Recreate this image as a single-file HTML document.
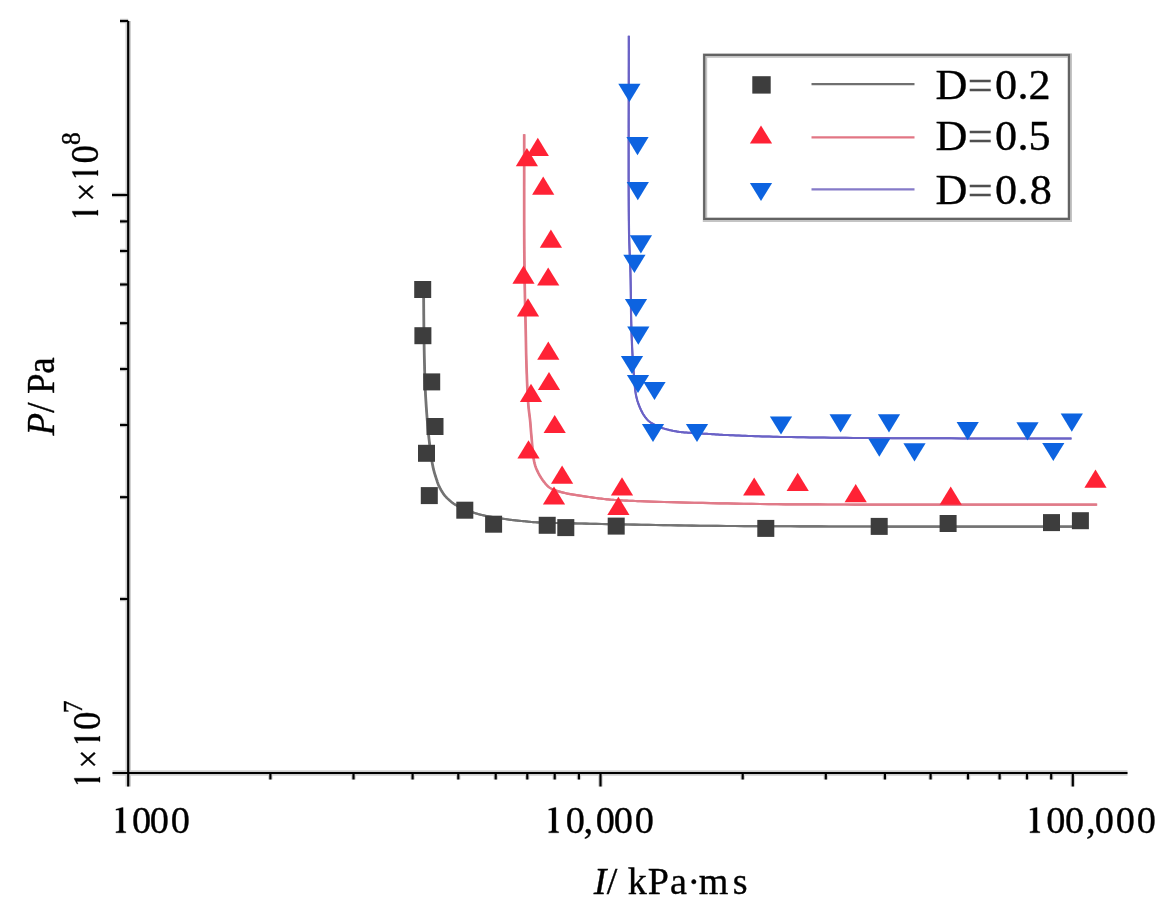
<!DOCTYPE html>
<html><head><meta charset="utf-8"><style>
html,body{margin:0;padding:0;background:#fff;}
body{width:1172px;height:908px;position:relative;overflow:hidden;}
svg{position:absolute;left:0;top:0;}
text{font-family:"Liberation Serif",serif;stroke:#000;stroke-width:0.35px;}
</style></head><body>
<svg width="1172" height="908" viewBox="0 0 1172 908">
<defs><filter id="fa" x="-5%" y="-5%" width="110%" height="110%"><feGaussianBlur stdDeviation="0.4"/></filter><filter id="fd" x="-5%" y="-5%" width="110%" height="110%"><feGaussianBlur stdDeviation="0.62"/></filter></defs>
<g filter="url(#fa)"><line x1="128.2" y1="21.0" x2="128.2" y2="786.5" stroke="#cfcfcf" stroke-width="5.5"/>
<line x1="112.5" y1="773.0" x2="1127.5" y2="773.0" stroke="#cfcfcf" stroke-width="5.5"/>
<line x1="112.0" y1="195.0" x2="128.2" y2="195.0" stroke="#cfcfcf" stroke-width="4.5"/>
<line x1="120.0" y1="599.0" x2="128.2" y2="599.0" stroke="#cfcfcf" stroke-width="4.5"/>
<line x1="120.0" y1="497.2" x2="128.2" y2="497.2" stroke="#cfcfcf" stroke-width="4.5"/>
<line x1="120.0" y1="425.0" x2="128.2" y2="425.0" stroke="#cfcfcf" stroke-width="4.5"/>
<line x1="120.0" y1="369.0" x2="128.2" y2="369.0" stroke="#cfcfcf" stroke-width="4.5"/>
<line x1="120.0" y1="323.2" x2="128.2" y2="323.2" stroke="#cfcfcf" stroke-width="4.5"/>
<line x1="120.0" y1="284.5" x2="128.2" y2="284.5" stroke="#cfcfcf" stroke-width="4.5"/>
<line x1="120.0" y1="251.0" x2="128.2" y2="251.0" stroke="#cfcfcf" stroke-width="4.5"/>
<line x1="120.0" y1="221.4" x2="128.2" y2="221.4" stroke="#cfcfcf" stroke-width="4.5"/>
<line x1="120.0" y1="21.0" x2="128.2" y2="21.0" stroke="#cfcfcf" stroke-width="4.5"/>
<line x1="600.5" y1="773.0" x2="600.5" y2="786.5" stroke="#cfcfcf" stroke-width="4.5"/>
<line x1="1072.8" y1="773.0" x2="1072.8" y2="786.5" stroke="#cfcfcf" stroke-width="4.5"/>
<line x1="270.4" y1="773.0" x2="270.4" y2="779.5" stroke="#cfcfcf" stroke-width="4.5"/>
<line x1="353.5" y1="773.0" x2="353.5" y2="779.5" stroke="#cfcfcf" stroke-width="4.5"/>
<line x1="412.6" y1="773.0" x2="412.6" y2="779.5" stroke="#cfcfcf" stroke-width="4.5"/>
<line x1="458.3" y1="773.0" x2="458.3" y2="779.5" stroke="#cfcfcf" stroke-width="4.5"/>
<line x1="495.7" y1="773.0" x2="495.7" y2="779.5" stroke="#cfcfcf" stroke-width="4.5"/>
<line x1="527.3" y1="773.0" x2="527.3" y2="779.5" stroke="#cfcfcf" stroke-width="4.5"/>
<line x1="554.7" y1="773.0" x2="554.7" y2="779.5" stroke="#cfcfcf" stroke-width="4.5"/>
<line x1="578.9" y1="773.0" x2="578.9" y2="779.5" stroke="#cfcfcf" stroke-width="4.5"/>
<line x1="742.7" y1="773.0" x2="742.7" y2="779.5" stroke="#cfcfcf" stroke-width="4.5"/>
<line x1="825.8" y1="773.0" x2="825.8" y2="779.5" stroke="#cfcfcf" stroke-width="4.5"/>
<line x1="884.9" y1="773.0" x2="884.9" y2="779.5" stroke="#cfcfcf" stroke-width="4.5"/>
<line x1="930.6" y1="773.0" x2="930.6" y2="779.5" stroke="#cfcfcf" stroke-width="4.5"/>
<line x1="968.0" y1="773.0" x2="968.0" y2="779.5" stroke="#cfcfcf" stroke-width="4.5"/>
<line x1="999.6" y1="773.0" x2="999.6" y2="779.5" stroke="#cfcfcf" stroke-width="4.5"/>
<line x1="1027.0" y1="773.0" x2="1027.0" y2="779.5" stroke="#cfcfcf" stroke-width="4.5"/>
<line x1="1051.2" y1="773.0" x2="1051.2" y2="779.5" stroke="#cfcfcf" stroke-width="4.5"/>
<line x1="128.2" y1="21.0" x2="128.2" y2="786.5" stroke="#000" stroke-width="2.2"/>
<line x1="112.5" y1="773.0" x2="1127.5" y2="773.0" stroke="#000" stroke-width="2.2"/>
<line x1="112.0" y1="195.0" x2="128.2" y2="195.0" stroke="#000" stroke-width="2.2"/>
<line x1="120.0" y1="599.0" x2="128.2" y2="599.0" stroke="#000" stroke-width="2.2"/>
<line x1="120.0" y1="497.2" x2="128.2" y2="497.2" stroke="#000" stroke-width="2.2"/>
<line x1="120.0" y1="425.0" x2="128.2" y2="425.0" stroke="#000" stroke-width="2.2"/>
<line x1="120.0" y1="369.0" x2="128.2" y2="369.0" stroke="#000" stroke-width="2.2"/>
<line x1="120.0" y1="323.2" x2="128.2" y2="323.2" stroke="#000" stroke-width="2.2"/>
<line x1="120.0" y1="284.5" x2="128.2" y2="284.5" stroke="#000" stroke-width="2.2"/>
<line x1="120.0" y1="251.0" x2="128.2" y2="251.0" stroke="#000" stroke-width="2.2"/>
<line x1="120.0" y1="221.4" x2="128.2" y2="221.4" stroke="#000" stroke-width="2.2"/>
<line x1="120.0" y1="21.0" x2="128.2" y2="21.0" stroke="#000" stroke-width="2.2"/>
<line x1="600.5" y1="773.0" x2="600.5" y2="786.5" stroke="#000" stroke-width="2.2"/>
<line x1="1072.8" y1="773.0" x2="1072.8" y2="786.5" stroke="#000" stroke-width="2.2"/>
<line x1="270.4" y1="773.0" x2="270.4" y2="779.5" stroke="#000" stroke-width="2.2"/>
<line x1="353.5" y1="773.0" x2="353.5" y2="779.5" stroke="#000" stroke-width="2.2"/>
<line x1="412.6" y1="773.0" x2="412.6" y2="779.5" stroke="#000" stroke-width="2.2"/>
<line x1="458.3" y1="773.0" x2="458.3" y2="779.5" stroke="#000" stroke-width="2.2"/>
<line x1="495.7" y1="773.0" x2="495.7" y2="779.5" stroke="#000" stroke-width="2.2"/>
<line x1="527.3" y1="773.0" x2="527.3" y2="779.5" stroke="#000" stroke-width="2.2"/>
<line x1="554.7" y1="773.0" x2="554.7" y2="779.5" stroke="#000" stroke-width="2.2"/>
<line x1="578.9" y1="773.0" x2="578.9" y2="779.5" stroke="#000" stroke-width="2.2"/>
<line x1="742.7" y1="773.0" x2="742.7" y2="779.5" stroke="#000" stroke-width="2.2"/>
<line x1="825.8" y1="773.0" x2="825.8" y2="779.5" stroke="#000" stroke-width="2.2"/>
<line x1="884.9" y1="773.0" x2="884.9" y2="779.5" stroke="#000" stroke-width="2.2"/>
<line x1="930.6" y1="773.0" x2="930.6" y2="779.5" stroke="#000" stroke-width="2.2"/>
<line x1="968.0" y1="773.0" x2="968.0" y2="779.5" stroke="#000" stroke-width="2.2"/>
<line x1="999.6" y1="773.0" x2="999.6" y2="779.5" stroke="#000" stroke-width="2.2"/>
<line x1="1027.0" y1="773.0" x2="1027.0" y2="779.5" stroke="#000" stroke-width="2.2"/>
<line x1="1051.2" y1="773.0" x2="1051.2" y2="779.5" stroke="#000" stroke-width="2.2"/>
<path transform="translate(115.90,832.80)" d="M0,0 L10,0 L10,-1.1 L8.2,-1.5 L7.2,-2.2 L7.2,-25.3 L6.4,-25.3 L0,-23.6 L0,-22.6 L2.2,-22.9 L3.3,-22.3 L3.3,-2.2 L2.3,-1.5 L0,-1.1 Z" fill="#000" stroke="#000" stroke-width="0.3"/>
<text transform="matrix(1.0200,0,0,1,131.94,832.80)" font-size="37.6" fill="#000">0</text>
<text transform="matrix(1.0200,0,0,1,149.74,832.80)" font-size="37.6" fill="#000">0</text>
<text transform="matrix(1.0200,0,0,1,170.64,832.80)" font-size="37.6" fill="#000">0</text>
<path transform="translate(548.70,832.80)" d="M0,0 L10,0 L10,-1.1 L8.2,-1.5 L7.2,-2.2 L7.2,-25.3 L6.4,-25.3 L0,-23.6 L0,-22.6 L2.2,-22.9 L3.3,-22.3 L3.3,-2.2 L2.3,-1.5 L0,-1.1 Z" fill="#000" stroke="#000" stroke-width="0.3"/>
<text transform="matrix(1.0200,0,0,1,565.64,832.80)" font-size="37.6" fill="#000">0</text>
<text transform="matrix(1.0200,0,0,1,583.54,832.80)" font-size="37.6" fill="#000">,</text>
<text transform="matrix(1.0200,0,0,1,595.84,832.80)" font-size="37.6" fill="#000">0</text>
<text transform="matrix(1.0200,0,0,1,613.84,832.80)" font-size="37.6" fill="#000">0</text>
<text transform="matrix(1.0200,0,0,1,634.74,832.80)" font-size="37.6" fill="#000">0</text>
<path transform="translate(1029.90,832.80)" d="M0,0 L10,0 L10,-1.1 L8.2,-1.5 L7.2,-2.2 L7.2,-25.3 L6.4,-25.3 L0,-23.6 L0,-22.6 L2.2,-22.9 L3.3,-22.3 L3.3,-2.2 L2.3,-1.5 L0,-1.1 Z" fill="#000" stroke="#000" stroke-width="0.3"/>
<text transform="matrix(1.0200,0,0,1,1046.34,832.80)" font-size="37.6" fill="#000">0</text>
<text transform="matrix(1.0200,0,0,1,1064.94,832.80)" font-size="37.6" fill="#000">0</text>
<text transform="matrix(1.0200,0,0,1,1085.94,832.80)" font-size="37.6" fill="#000">,</text>
<text transform="matrix(1.0200,0,0,1,1094.64,832.80)" font-size="37.6" fill="#000">0</text>
<text transform="matrix(1.0200,0,0,1,1115.64,832.80)" font-size="37.6" fill="#000">0</text>
<text transform="matrix(1.0200,0,0,1,1136.64,832.80)" font-size="37.6" fill="#000">0</text>
<text transform="matrix(1.0300,0,0,1,593.85,894.10)" font-size="37.0" font-style="italic" fill="#000">I</text>
<text transform="matrix(1.0300,0,0,1,606.80,894.10)" font-size="37.0" fill="#000">/</text>
<text transform="matrix(1.0300,0,0,1,627.77,894.10)" font-size="37.0" fill="#000">k</text>
<text transform="matrix(1.0300,0,0,1,647.70,894.10)" font-size="37.0" fill="#000">P</text>
<text transform="matrix(1.0300,0,0,1,669.96,894.10)" font-size="37.0" fill="#000">a</text>
<text transform="matrix(1.0300,0,0,1,687.51,894.10)" font-size="37.0" fill="#000">·</text>
<text transform="matrix(1.0300,0,0,1,698.80,894.10)" font-size="37.0" fill="#000">m</text>
<text transform="matrix(1.0300,0,0,1,732.84,894.10)" font-size="37.0" fill="#000">s</text>
<text transform="matrix(0,-1,1.0600,0,53.70,435.60)" font-size="37.0" font-style="italic" fill="#000">P</text>
<text transform="matrix(0,-1,1.0600,0,53.70,412.80)" font-size="37.0" fill="#000">/</text>
<text transform="matrix(0,-1,1.0600,0,53.70,393.97)" font-size="37.0" fill="#000">P</text>
<text transform="matrix(0,-1,1.0600,0,53.70,373.80)" font-size="37.0" fill="#000">a</text>
<path transform="matrix(0,-1,1.0600,0,98.00,217.00)" d="M1.8,0 L6.8,0 L6.8,-0.9 L5.8,-1.3 L5.8,-24.3 L5.0,-24.3 L0.2,-21.8 L0,-20.8 L0.6,-20.9 L2.6,-21.9 L2.6,-1.3 L1.8,-0.9 Z" fill="#000" stroke="#000" stroke-width="0.3"/>
<text transform="matrix(0,-1,1.0600,0,98.00,201.55)" font-size="33.5" fill="#000">×</text>
<path transform="matrix(0,-1,1.0600,0,98.00,177.20)" d="M1.8,0 L6.8,0 L6.8,-0.9 L5.8,-1.3 L5.8,-24.3 L5.0,-24.3 L0.2,-21.8 L0,-20.8 L0.6,-20.9 L2.6,-21.9 L2.6,-1.3 L1.8,-0.9 Z" fill="#000" stroke="#000" stroke-width="0.3"/>
<text transform="matrix(0,-1,1.0600,0,98.00,163.61)" font-size="37.0" fill="#000">0</text>
<text transform="matrix(0,-1,1.0600,0,79.80,144.97)" font-size="25.4" fill="#000">8</text>
<path transform="matrix(0,-1,1.0600,0,100.00,784.00)" d="M1.8,0 L6.8,0 L6.8,-0.9 L5.8,-1.3 L5.8,-24.3 L5.0,-24.3 L0.2,-21.8 L0,-20.8 L0.6,-20.9 L2.6,-21.9 L2.6,-1.3 L1.8,-0.9 Z" fill="#000" stroke="#000" stroke-width="0.3"/>
<text transform="matrix(0,-1,1.0600,0,100.00,768.55)" font-size="33.5" fill="#000">×</text>
<path transform="matrix(0,-1,1.0600,0,100.00,743.10)" d="M1.8,0 L6.8,0 L6.8,-0.9 L5.8,-1.3 L5.8,-24.3 L5.0,-24.3 L0.2,-21.8 L0,-20.8 L0.6,-20.9 L2.6,-21.9 L2.6,-1.3 L1.8,-0.9 Z" fill="#000" stroke="#000" stroke-width="0.3"/>
<text transform="matrix(0,-1,1.0600,0,100.00,730.01)" font-size="37.0" fill="#000">0</text>
<text transform="matrix(0,-1,1.0600,0,81.90,713.27)" font-size="25.4" fill="#000">7</text>
<text transform="matrix(1.0400,0,0,1,935.43,99.10)" font-size="42.5" fill="#000">D</text>
<text style="stroke:#505050" transform="matrix(1.0400,0,0,1,967.70,99.10)" font-size="42.5" fill="#505050">=</text>
<text transform="matrix(1.0400,0,0,1,994.92,99.10)" font-size="42.5" fill="#000">0</text>
<text transform="matrix(1.0400,0,0,1,1017.49,99.10)" font-size="42.5" fill="#000">.</text>
<text transform="matrix(1.0400,0,0,1,1028.46,99.10)" font-size="42.5" fill="#000">2</text>
<text transform="matrix(1.0400,0,0,1,935.43,150.20)" font-size="42.5" fill="#000">D</text>
<text style="stroke:#505050" transform="matrix(1.0400,0,0,1,967.70,150.20)" font-size="42.5" fill="#505050">=</text>
<text transform="matrix(1.0400,0,0,1,994.92,150.20)" font-size="42.5" fill="#000">0</text>
<text transform="matrix(1.0400,0,0,1,1017.49,150.20)" font-size="42.5" fill="#000">.</text>
<text transform="matrix(1.0400,0,0,1,1028.43,150.20)" font-size="42.5" fill="#000">5</text>
<text transform="matrix(1.0400,0,0,1,935.43,203.90)" font-size="42.5" fill="#000">D</text>
<text style="stroke:#505050" transform="matrix(1.0400,0,0,1,967.70,203.90)" font-size="42.5" fill="#505050">=</text>
<text transform="matrix(1.0400,0,0,1,994.92,203.90)" font-size="42.5" fill="#000">0</text>
<text transform="matrix(1.0400,0,0,1,1017.49,203.90)" font-size="42.5" fill="#000">.</text>
<text transform="matrix(1.0400,0,0,1,1029.82,203.90)" font-size="42.5" fill="#000">8</text></g>
<g filter="url(#fd)"><polyline transform="translate(-0.35,0)" points="423.60,289.50 423.61,291.40 423.62,293.28 423.63,295.16 423.64,297.03 423.65,298.89 423.66,300.76 423.67,302.62 423.68,304.49 423.69,306.37 423.70,308.26 423.72,310.16 423.73,312.08 423.74,314.03 423.76,315.99 423.78,317.98 423.80,320.00 423.83,322.36 423.85,324.76 423.88,327.20 423.91,329.67 423.94,332.17 423.97,334.70 424.00,337.24 424.03,339.79 424.07,342.35 424.11,344.92 424.15,347.47 424.19,350.02 424.24,352.55 424.29,355.06 424.34,357.55 424.40,360.00 424.45,362.30 424.51,364.57 424.56,366.82 424.61,369.06 424.67,371.29 424.72,373.50 424.78,375.72 424.85,377.93 424.92,380.14 424.99,382.36 425.07,384.59 425.16,386.83 425.25,389.09 425.36,391.37 425.47,393.67 425.60,396.00 425.75,398.59 425.91,401.24 426.08,403.93 426.26,406.65 426.45,409.41 426.64,412.18 426.85,414.96 427.06,417.74 427.28,420.50 427.51,423.25 427.74,425.97 427.98,428.65 428.23,431.28 428.48,433.86 428.74,436.37 429.00,438.80 429.22,440.75 429.44,442.69 429.66,444.63 429.89,446.55 430.12,448.45 430.35,450.33 430.59,452.19 430.84,454.01 431.09,455.80 431.34,457.55 431.60,459.26 431.87,460.92 432.14,462.53 432.42,464.08 432.71,465.57 433.00,467.00 433.20,467.92 433.41,468.82 433.62,469.68 433.83,470.53 434.05,471.35 434.27,472.16 434.49,472.94 434.72,473.70 434.94,474.45 435.17,475.18 435.39,475.90 435.62,476.60 435.84,477.29 436.06,477.97 436.28,478.64 436.50,479.30 436.66,479.79 436.82,480.27 436.97,480.73 437.11,481.19 437.26,481.63 437.40,482.06 437.55,482.48 437.69,482.90 437.84,483.32 438.00,483.73 438.16,484.15 438.33,484.57 438.50,484.99 438.69,485.42 438.89,485.85 439.10,486.30 439.36,486.84 439.64,487.38 439.92,487.94 440.22,488.51 440.53,489.08 440.85,489.65 441.17,490.22 441.51,490.80 441.85,491.37 442.20,491.93 442.55,492.49 442.91,493.04 443.28,493.58 443.65,494.10 444.02,494.61 444.40,495.10 444.75,495.54 445.12,495.98 445.49,496.41 445.88,496.84 446.27,497.25 446.66,497.67 447.06,498.07 447.46,498.47 447.87,498.85 448.27,499.23 448.67,499.60 449.07,499.96 449.46,500.31 449.85,500.65 450.23,500.98 450.60,501.30 450.88,501.54 451.15,501.77 451.42,501.99 451.68,502.20 451.93,502.40 452.18,502.59 452.43,502.78 452.68,502.97 452.94,503.15 453.20,503.34 453.47,503.52 453.75,503.71 454.04,503.90 454.34,504.09 454.66,504.29 455.00,504.50 455.54,504.82 456.12,505.16 456.73,505.50 457.37,505.86 458.03,506.21 458.72,506.57 459.42,506.94 460.14,507.30 460.87,507.66 461.61,508.02 462.35,508.38 463.09,508.72 463.83,509.06 464.57,509.39 465.29,509.70 466.00,510.00 466.70,510.28 467.41,510.56 468.13,510.84 468.86,511.10 469.59,511.37 470.32,511.62 471.06,511.87 471.79,512.11 472.52,512.35 473.24,512.58 473.96,512.80 474.66,513.01 475.34,513.22 476.02,513.42 476.67,513.61 477.30,513.80 477.76,513.93 478.20,514.06 478.61,514.18 479.01,514.29 479.40,514.40 479.77,514.50 480.15,514.60 480.52,514.70 480.90,514.79 481.30,514.88 481.70,514.98 482.12,515.08 482.57,515.18 483.05,515.28 483.56,515.39 484.10,515.50 485.26,515.73 486.55,515.98 487.95,516.24 489.46,516.52 491.05,516.80 492.72,517.08 494.43,517.37 496.19,517.66 497.96,517.95 499.75,518.23 501.52,518.51 503.27,518.78 504.98,519.03 506.63,519.27 508.21,519.50 509.70,519.70 510.87,519.85 512.04,520.00 513.20,520.14 514.35,520.27 515.49,520.40 516.62,520.52 517.73,520.63 518.83,520.74 519.91,520.84 520.97,520.95 522.01,521.04 523.02,521.14 524.01,521.23 524.97,521.32 525.90,521.41 526.80,521.50 527.40,521.56 527.95,521.62 528.47,521.68 528.96,521.73 529.42,521.78 529.88,521.83 530.32,521.88 530.77,521.93 531.23,521.98 531.70,522.03 532.19,522.07 532.72,522.12 533.29,522.16 533.90,522.21 534.57,522.25 535.30,522.30 537.38,522.41 539.73,522.52 542.34,522.62 545.19,522.71 548.25,522.80 551.50,522.89 554.92,522.97 558.49,523.06 562.20,523.14 566.01,523.21 569.91,523.29 573.88,523.37 577.89,523.45 581.93,523.53 585.97,523.61 590.00,523.70 595.80,523.83 601.81,523.96 608.03,524.09 614.43,524.23 620.99,524.36 627.72,524.50 634.57,524.64 641.56,524.77 648.65,524.91 655.83,525.04 663.09,525.16 670.41,525.28 677.78,525.40 685.17,525.51 692.59,525.61 700.00,525.70 708.68,525.80 717.44,525.88 726.26,525.96 735.17,526.03 744.16,526.09 753.25,526.15 762.42,526.20 771.70,526.24 781.07,526.28 790.56,526.32 800.16,526.35 809.87,526.38 819.71,526.41 829.67,526.44 839.77,526.47 850.00,526.50 862.73,526.53 875.77,526.56 889.08,526.58 902.65,526.59 916.43,526.60 930.40,526.61 944.51,526.61 958.75,526.61 973.07,526.61 987.44,526.60 1001.83,526.60 1016.22,526.60 1030.56,526.59 1044.82,526.59 1058.98,526.60 1073.00,526.60" fill="none" stroke="#737373" stroke-width="2.1" stroke-linejoin="round"/>
<polyline transform="translate(0.35,0)" points="423.60,289.50 423.61,291.40 423.62,293.28 423.63,295.16 423.64,297.03 423.65,298.89 423.66,300.76 423.67,302.62 423.68,304.49 423.69,306.37 423.70,308.26 423.72,310.16 423.73,312.08 423.74,314.03 423.76,315.99 423.78,317.98 423.80,320.00 423.83,322.36 423.85,324.76 423.88,327.20 423.91,329.67 423.94,332.17 423.97,334.70 424.00,337.24 424.03,339.79 424.07,342.35 424.11,344.92 424.15,347.47 424.19,350.02 424.24,352.55 424.29,355.06 424.34,357.55 424.40,360.00 424.45,362.30 424.51,364.57 424.56,366.82 424.61,369.06 424.67,371.29 424.72,373.50 424.78,375.72 424.85,377.93 424.92,380.14 424.99,382.36 425.07,384.59 425.16,386.83 425.25,389.09 425.36,391.37 425.47,393.67 425.60,396.00 425.75,398.59 425.91,401.24 426.08,403.93 426.26,406.65 426.45,409.41 426.64,412.18 426.85,414.96 427.06,417.74 427.28,420.50 427.51,423.25 427.74,425.97 427.98,428.65 428.23,431.28 428.48,433.86 428.74,436.37 429.00,438.80 429.22,440.75 429.44,442.69 429.66,444.63 429.89,446.55 430.12,448.45 430.35,450.33 430.59,452.19 430.84,454.01 431.09,455.80 431.34,457.55 431.60,459.26 431.87,460.92 432.14,462.53 432.42,464.08 432.71,465.57 433.00,467.00 433.20,467.92 433.41,468.82 433.62,469.68 433.83,470.53 434.05,471.35 434.27,472.16 434.49,472.94 434.72,473.70 434.94,474.45 435.17,475.18 435.39,475.90 435.62,476.60 435.84,477.29 436.06,477.97 436.28,478.64 436.50,479.30 436.66,479.79 436.82,480.27 436.97,480.73 437.11,481.19 437.26,481.63 437.40,482.06 437.55,482.48 437.69,482.90 437.84,483.32 438.00,483.73 438.16,484.15 438.33,484.57 438.50,484.99 438.69,485.42 438.89,485.85 439.10,486.30 439.36,486.84 439.64,487.38 439.92,487.94 440.22,488.51 440.53,489.08 440.85,489.65 441.17,490.22 441.51,490.80 441.85,491.37 442.20,491.93 442.55,492.49 442.91,493.04 443.28,493.58 443.65,494.10 444.02,494.61 444.40,495.10 444.75,495.54 445.12,495.98 445.49,496.41 445.88,496.84 446.27,497.25 446.66,497.67 447.06,498.07 447.46,498.47 447.87,498.85 448.27,499.23 448.67,499.60 449.07,499.96 449.46,500.31 449.85,500.65 450.23,500.98 450.60,501.30 450.88,501.54 451.15,501.77 451.42,501.99 451.68,502.20 451.93,502.40 452.18,502.59 452.43,502.78 452.68,502.97 452.94,503.15 453.20,503.34 453.47,503.52 453.75,503.71 454.04,503.90 454.34,504.09 454.66,504.29 455.00,504.50 455.54,504.82 456.12,505.16 456.73,505.50 457.37,505.86 458.03,506.21 458.72,506.57 459.42,506.94 460.14,507.30 460.87,507.66 461.61,508.02 462.35,508.38 463.09,508.72 463.83,509.06 464.57,509.39 465.29,509.70 466.00,510.00 466.70,510.28 467.41,510.56 468.13,510.84 468.86,511.10 469.59,511.37 470.32,511.62 471.06,511.87 471.79,512.11 472.52,512.35 473.24,512.58 473.96,512.80 474.66,513.01 475.34,513.22 476.02,513.42 476.67,513.61 477.30,513.80 477.76,513.93 478.20,514.06 478.61,514.18 479.01,514.29 479.40,514.40 479.77,514.50 480.15,514.60 480.52,514.70 480.90,514.79 481.30,514.88 481.70,514.98 482.12,515.08 482.57,515.18 483.05,515.28 483.56,515.39 484.10,515.50 485.26,515.73 486.55,515.98 487.95,516.24 489.46,516.52 491.05,516.80 492.72,517.08 494.43,517.37 496.19,517.66 497.96,517.95 499.75,518.23 501.52,518.51 503.27,518.78 504.98,519.03 506.63,519.27 508.21,519.50 509.70,519.70 510.87,519.85 512.04,520.00 513.20,520.14 514.35,520.27 515.49,520.40 516.62,520.52 517.73,520.63 518.83,520.74 519.91,520.84 520.97,520.95 522.01,521.04 523.02,521.14 524.01,521.23 524.97,521.32 525.90,521.41 526.80,521.50 527.40,521.56 527.95,521.62 528.47,521.68 528.96,521.73 529.42,521.78 529.88,521.83 530.32,521.88 530.77,521.93 531.23,521.98 531.70,522.03 532.19,522.07 532.72,522.12 533.29,522.16 533.90,522.21 534.57,522.25 535.30,522.30 537.38,522.41 539.73,522.52 542.34,522.62 545.19,522.71 548.25,522.80 551.50,522.89 554.92,522.97 558.49,523.06 562.20,523.14 566.01,523.21 569.91,523.29 573.88,523.37 577.89,523.45 581.93,523.53 585.97,523.61 590.00,523.70 595.80,523.83 601.81,523.96 608.03,524.09 614.43,524.23 620.99,524.36 627.72,524.50 634.57,524.64 641.56,524.77 648.65,524.91 655.83,525.04 663.09,525.16 670.41,525.28 677.78,525.40 685.17,525.51 692.59,525.61 700.00,525.70 708.68,525.80 717.44,525.88 726.26,525.96 735.17,526.03 744.16,526.09 753.25,526.15 762.42,526.20 771.70,526.24 781.07,526.28 790.56,526.32 800.16,526.35 809.87,526.38 819.71,526.41 829.67,526.44 839.77,526.47 850.00,526.50 862.73,526.53 875.77,526.56 889.08,526.58 902.65,526.59 916.43,526.60 930.40,526.61 944.51,526.61 958.75,526.61 973.07,526.61 987.44,526.60 1001.83,526.60 1016.22,526.60 1030.56,526.59 1044.82,526.59 1058.98,526.60 1073.00,526.60" fill="none" stroke="#737373" stroke-width="2.1" stroke-linejoin="round"/>
<polyline transform="translate(-0.25,0)" points="524.20,134.30 524.20,141.62 524.20,149.09 524.20,156.68 524.20,164.35 524.19,172.06 524.19,179.79 524.18,187.49 524.18,195.14 524.18,202.69 524.18,210.12 524.18,217.38 524.19,224.44 524.21,231.27 524.23,237.83 524.26,244.08 524.30,250.00 524.33,253.72 524.36,257.36 524.40,260.90 524.44,264.36 524.48,267.73 524.52,271.02 524.56,274.23 524.61,277.36 524.65,280.43 524.70,283.42 524.75,286.34 524.80,289.19 524.85,291.98 524.90,294.71 524.95,297.38 525.00,300.00 525.03,301.79 525.07,303.49 525.11,305.13 525.14,306.71 525.18,308.24 525.21,309.73 525.25,311.20 525.29,312.65 525.33,314.10 525.36,315.55 525.40,317.02 525.44,318.52 525.48,320.05 525.52,321.64 525.56,323.28 525.60,325.00 525.65,327.29 525.70,329.65 525.75,332.08 525.79,334.57 525.84,337.11 525.88,339.70 525.93,342.31 525.98,344.95 526.03,347.61 526.08,350.28 526.14,352.95 526.20,355.61 526.27,358.25 526.34,360.87 526.42,363.46 526.50,366.00 526.59,368.46 526.67,370.97 526.76,373.50 526.86,376.05 526.95,378.61 527.05,381.17 527.16,383.72 527.26,386.25 527.38,388.74 527.49,391.19 527.61,393.59 527.74,395.92 527.87,398.18 528.01,400.35 528.15,402.43 528.30,404.40 528.40,405.65 528.51,406.86 528.63,408.03 528.75,409.17 528.87,410.27 529.00,411.34 529.13,412.39 529.25,413.41 529.38,414.43 529.51,415.43 529.63,416.42 529.76,417.41 529.87,418.39 529.99,419.39 530.10,420.39 530.20,421.40 530.29,422.33 530.37,423.24 530.45,424.13 530.52,425.00 530.59,425.87 530.65,426.73 530.72,427.59 530.78,428.45 530.84,429.32 530.91,430.19 530.98,431.08 531.05,431.99 531.13,432.93 531.21,433.89 531.30,434.88 531.40,435.90 531.54,437.37 531.68,438.95 531.82,440.60 531.96,442.33 532.10,444.11 532.26,445.92 532.42,447.76 532.59,449.60 532.76,451.43 532.95,453.23 533.15,454.99 533.37,456.70 533.60,458.32 533.85,459.86 534.11,461.29 534.40,462.60 534.58,463.35 534.77,464.07 534.96,464.75 535.16,465.41 535.35,466.04 535.56,466.64 535.77,467.23 535.98,467.81 536.21,468.37 536.43,468.93 536.67,469.48 536.92,470.03 537.17,470.59 537.44,471.15 537.71,471.72 538.00,472.30 538.31,472.93 538.64,473.56 538.98,474.19 539.33,474.83 539.70,475.47 540.07,476.11 540.45,476.74 540.84,477.37 541.23,477.99 541.63,478.60 542.04,479.20 542.45,479.80 542.86,480.37 543.27,480.93 543.69,481.48 544.10,482.00 544.45,482.44 544.80,482.87 545.14,483.29 545.49,483.70 545.83,484.11 546.17,484.50 546.52,484.89 546.87,485.27 547.24,485.64 547.61,486.00 548.00,486.35 548.40,486.70 548.82,487.04 549.26,487.37 549.72,487.69 550.20,488.00 550.84,488.38 551.51,488.75 552.21,489.09 552.93,489.42 553.68,489.73 554.45,490.03 555.24,490.31 556.05,490.59 556.89,490.86 557.74,491.12 558.61,491.37 559.50,491.62 560.40,491.86 561.32,492.11 562.25,492.35 563.20,492.60 564.51,492.93 565.87,493.24 567.30,493.55 568.76,493.84 570.27,494.12 571.81,494.40 573.38,494.66 574.97,494.92 576.57,495.17 578.18,495.42 579.79,495.66 581.39,495.89 582.98,496.12 584.55,496.35 586.09,496.58 587.60,496.80 589.01,497.01 590.40,497.21 591.77,497.42 593.14,497.61 594.49,497.81 595.84,497.99 597.19,498.18 598.54,498.35 599.90,498.53 601.26,498.70 602.64,498.86 604.03,499.02 605.44,499.17 606.86,499.32 608.32,499.46 609.80,499.60 611.52,499.75 613.21,499.89 614.88,500.01 616.55,500.13 618.21,500.24 619.90,500.34 621.61,500.43 623.35,500.52 625.14,500.60 627.00,500.69 628.92,500.77 630.93,500.85 633.03,500.93 635.23,501.02 637.55,501.11 640.00,501.20 645.29,501.39 651.12,501.59 657.44,501.79 664.18,501.99 671.30,502.19 678.76,502.38 686.49,502.58 694.44,502.77 702.57,502.95 710.82,503.13 719.14,503.30 727.48,503.46 735.79,503.62 744.01,503.76 752.10,503.89 760.00,504.00 768.41,504.11 776.82,504.20 785.24,504.28 793.68,504.34 802.15,504.39 810.66,504.43 819.22,504.46 827.83,504.49 836.52,504.51 845.28,504.52 854.13,504.53 863.07,504.54 872.12,504.55 881.28,504.56 890.58,504.58 900.00,504.60 911.39,504.62 923.02,504.64 934.86,504.66 946.89,504.67 959.08,504.68 971.42,504.69 983.86,504.69 996.40,504.69 1009.01,504.69 1021.65,504.69 1034.31,504.69 1046.96,504.69 1059.58,504.69 1072.15,504.69 1084.63,504.69 1097.00,504.70" fill="none" stroke="#e07a88" stroke-width="2.2" stroke-linejoin="round"/>
<polyline transform="translate(0.25,0)" points="524.20,134.30 524.20,141.62 524.20,149.09 524.20,156.68 524.20,164.35 524.19,172.06 524.19,179.79 524.18,187.49 524.18,195.14 524.18,202.69 524.18,210.12 524.18,217.38 524.19,224.44 524.21,231.27 524.23,237.83 524.26,244.08 524.30,250.00 524.33,253.72 524.36,257.36 524.40,260.90 524.44,264.36 524.48,267.73 524.52,271.02 524.56,274.23 524.61,277.36 524.65,280.43 524.70,283.42 524.75,286.34 524.80,289.19 524.85,291.98 524.90,294.71 524.95,297.38 525.00,300.00 525.03,301.79 525.07,303.49 525.11,305.13 525.14,306.71 525.18,308.24 525.21,309.73 525.25,311.20 525.29,312.65 525.33,314.10 525.36,315.55 525.40,317.02 525.44,318.52 525.48,320.05 525.52,321.64 525.56,323.28 525.60,325.00 525.65,327.29 525.70,329.65 525.75,332.08 525.79,334.57 525.84,337.11 525.88,339.70 525.93,342.31 525.98,344.95 526.03,347.61 526.08,350.28 526.14,352.95 526.20,355.61 526.27,358.25 526.34,360.87 526.42,363.46 526.50,366.00 526.59,368.46 526.67,370.97 526.76,373.50 526.86,376.05 526.95,378.61 527.05,381.17 527.16,383.72 527.26,386.25 527.38,388.74 527.49,391.19 527.61,393.59 527.74,395.92 527.87,398.18 528.01,400.35 528.15,402.43 528.30,404.40 528.40,405.65 528.51,406.86 528.63,408.03 528.75,409.17 528.87,410.27 529.00,411.34 529.13,412.39 529.25,413.41 529.38,414.43 529.51,415.43 529.63,416.42 529.76,417.41 529.87,418.39 529.99,419.39 530.10,420.39 530.20,421.40 530.29,422.33 530.37,423.24 530.45,424.13 530.52,425.00 530.59,425.87 530.65,426.73 530.72,427.59 530.78,428.45 530.84,429.32 530.91,430.19 530.98,431.08 531.05,431.99 531.13,432.93 531.21,433.89 531.30,434.88 531.40,435.90 531.54,437.37 531.68,438.95 531.82,440.60 531.96,442.33 532.10,444.11 532.26,445.92 532.42,447.76 532.59,449.60 532.76,451.43 532.95,453.23 533.15,454.99 533.37,456.70 533.60,458.32 533.85,459.86 534.11,461.29 534.40,462.60 534.58,463.35 534.77,464.07 534.96,464.75 535.16,465.41 535.35,466.04 535.56,466.64 535.77,467.23 535.98,467.81 536.21,468.37 536.43,468.93 536.67,469.48 536.92,470.03 537.17,470.59 537.44,471.15 537.71,471.72 538.00,472.30 538.31,472.93 538.64,473.56 538.98,474.19 539.33,474.83 539.70,475.47 540.07,476.11 540.45,476.74 540.84,477.37 541.23,477.99 541.63,478.60 542.04,479.20 542.45,479.80 542.86,480.37 543.27,480.93 543.69,481.48 544.10,482.00 544.45,482.44 544.80,482.87 545.14,483.29 545.49,483.70 545.83,484.11 546.17,484.50 546.52,484.89 546.87,485.27 547.24,485.64 547.61,486.00 548.00,486.35 548.40,486.70 548.82,487.04 549.26,487.37 549.72,487.69 550.20,488.00 550.84,488.38 551.51,488.75 552.21,489.09 552.93,489.42 553.68,489.73 554.45,490.03 555.24,490.31 556.05,490.59 556.89,490.86 557.74,491.12 558.61,491.37 559.50,491.62 560.40,491.86 561.32,492.11 562.25,492.35 563.20,492.60 564.51,492.93 565.87,493.24 567.30,493.55 568.76,493.84 570.27,494.12 571.81,494.40 573.38,494.66 574.97,494.92 576.57,495.17 578.18,495.42 579.79,495.66 581.39,495.89 582.98,496.12 584.55,496.35 586.09,496.58 587.60,496.80 589.01,497.01 590.40,497.21 591.77,497.42 593.14,497.61 594.49,497.81 595.84,497.99 597.19,498.18 598.54,498.35 599.90,498.53 601.26,498.70 602.64,498.86 604.03,499.02 605.44,499.17 606.86,499.32 608.32,499.46 609.80,499.60 611.52,499.75 613.21,499.89 614.88,500.01 616.55,500.13 618.21,500.24 619.90,500.34 621.61,500.43 623.35,500.52 625.14,500.60 627.00,500.69 628.92,500.77 630.93,500.85 633.03,500.93 635.23,501.02 637.55,501.11 640.00,501.20 645.29,501.39 651.12,501.59 657.44,501.79 664.18,501.99 671.30,502.19 678.76,502.38 686.49,502.58 694.44,502.77 702.57,502.95 710.82,503.13 719.14,503.30 727.48,503.46 735.79,503.62 744.01,503.76 752.10,503.89 760.00,504.00 768.41,504.11 776.82,504.20 785.24,504.28 793.68,504.34 802.15,504.39 810.66,504.43 819.22,504.46 827.83,504.49 836.52,504.51 845.28,504.52 854.13,504.53 863.07,504.54 872.12,504.55 881.28,504.56 890.58,504.58 900.00,504.60 911.39,504.62 923.02,504.64 934.86,504.66 946.89,504.67 959.08,504.68 971.42,504.69 983.86,504.69 996.40,504.69 1009.01,504.69 1021.65,504.69 1034.31,504.69 1046.96,504.69 1059.58,504.69 1072.15,504.69 1084.63,504.69 1097.00,504.70" fill="none" stroke="#e07a88" stroke-width="2.2" stroke-linejoin="round"/>
<polyline transform="translate(-0.1,0)" points="628.80,35.70 628.81,48.09 628.80,60.92 628.78,74.08 628.76,87.47 628.73,100.99 628.70,114.54 628.68,128.03 628.65,141.36 628.64,154.41 628.64,167.11 628.65,179.33 628.67,191.00 628.72,201.99 628.79,212.23 628.88,221.59 629.00,230.00 629.07,233.68 629.15,237.13 629.24,240.39 629.33,243.47 629.43,246.39 629.53,249.18 629.64,251.87 629.74,254.47 629.85,257.01 629.96,259.51 630.06,262.00 630.16,264.49 630.26,267.01 630.34,269.59 630.43,272.24 630.50,275.00 630.56,277.83 630.62,280.70 630.67,283.60 630.72,286.53 630.76,289.46 630.80,292.39 630.83,295.32 630.87,298.23 630.90,301.13 630.93,303.99 630.97,306.81 631.01,309.58 631.05,312.29 631.09,314.94 631.14,317.51 631.20,320.00 631.25,321.86 631.29,323.67 631.34,325.44 631.39,327.18 631.44,328.88 631.49,330.56 631.54,332.21 631.59,333.84 631.65,335.46 631.70,337.06 631.76,338.65 631.82,340.23 631.89,341.82 631.96,343.40 632.03,345.00 632.10,346.60 632.17,348.10 632.24,349.59 632.31,351.07 632.39,352.54 632.46,354.00 632.54,355.45 632.62,356.90 632.70,358.35 632.79,359.79 632.88,361.24 632.97,362.68 633.07,364.13 633.17,365.59 633.27,367.05 633.38,368.52 633.50,370.00 633.62,371.56 633.74,373.16 633.86,374.79 633.98,376.44 634.11,378.10 634.24,379.77 634.37,381.44 634.51,383.09 634.65,384.73 634.81,386.35 634.98,387.92 635.15,389.46 635.34,390.94 635.55,392.36 635.76,393.72 636.00,395.00 636.17,395.83 636.34,396.63 636.52,397.40 636.70,398.15 636.88,398.87 637.08,399.58 637.27,400.27 637.47,400.95 637.68,401.61 637.89,402.26 638.11,402.91 638.34,403.55 638.57,404.19 638.81,404.82 639.05,405.46 639.30,406.10 639.54,406.69 639.78,407.28 640.03,407.87 640.28,408.45 640.54,409.02 640.80,409.60 641.07,410.16 641.34,410.72 641.62,411.27 641.91,411.82 642.19,412.36 642.49,412.88 642.78,413.40 643.08,413.91 643.39,414.41 643.70,414.90 643.98,415.32 644.25,415.74 644.53,416.15 644.81,416.56 645.09,416.95 645.38,417.35 645.67,417.73 645.97,418.11 646.27,418.48 646.57,418.84 646.89,419.20 647.21,419.55 647.54,419.90 647.88,420.24 648.24,420.57 648.60,420.90 649.00,421.24 649.41,421.57 649.82,421.89 650.25,422.21 650.69,422.51 651.14,422.81 651.59,423.10 652.06,423.39 652.53,423.67 653.00,423.94 653.49,424.21 653.98,424.48 654.48,424.74 654.98,425.00 655.49,425.25 656.00,425.50 656.58,425.77 657.17,426.04 657.76,426.30 658.37,426.56 658.98,426.81 659.60,427.05 660.23,427.29 660.87,427.52 661.52,427.75 662.17,427.97 662.83,428.18 663.49,428.40 664.16,428.60 664.83,428.81 665.51,429.00 666.20,429.20 666.97,429.41 667.75,429.62 668.53,429.82 669.31,430.01 670.11,430.20 670.91,430.38 671.72,430.56 672.54,430.73 673.37,430.89 674.20,431.05 675.05,431.21 675.92,431.35 676.79,431.50 677.68,431.64 678.58,431.77 679.50,431.90 680.65,432.05 681.82,432.18 683.01,432.31 684.21,432.42 685.44,432.52 686.68,432.61 687.94,432.70 689.22,432.78 690.52,432.85 691.83,432.93 693.15,433.00 694.49,433.07 695.85,433.15 697.22,433.23 698.60,433.31 700.00,433.40 701.70,433.51 703.42,433.63 705.14,433.74 706.89,433.86 708.65,433.98 710.43,434.09 712.24,434.21 714.08,434.33 715.94,434.44 717.84,434.55 719.77,434.67 721.73,434.78 723.73,434.89 725.78,434.99 727.87,435.10 730.00,435.20 732.95,435.33 735.94,435.47 739.00,435.59 742.11,435.72 745.29,435.84 748.53,435.96 751.84,436.08 755.21,436.20 758.66,436.31 762.18,436.42 765.77,436.52 769.45,436.62 773.21,436.72 777.05,436.82 780.98,436.91 785.00,437.00 790.99,437.12 797.21,437.24 803.64,437.34 810.26,437.44 817.07,437.53 824.05,437.61 831.18,437.69 838.45,437.76 845.84,437.83 853.35,437.89 860.96,437.95 868.66,438.00 876.42,438.06 884.24,438.11 892.11,438.15 900.00,438.20 909.78,438.25 919.80,438.29 930.04,438.32 940.47,438.35 951.07,438.37 961.81,438.38 972.67,438.38 983.61,438.39 994.63,438.39 1005.69,438.39 1016.76,438.38 1027.82,438.38 1038.86,438.38 1049.83,438.38 1060.72,438.39 1071.50,438.40" fill="none" stroke="#6a62c6" stroke-width="2.0" stroke-linejoin="round"/>
<polyline transform="translate(0.1,0)" points="628.80,35.70 628.81,48.09 628.80,60.92 628.78,74.08 628.76,87.47 628.73,100.99 628.70,114.54 628.68,128.03 628.65,141.36 628.64,154.41 628.64,167.11 628.65,179.33 628.67,191.00 628.72,201.99 628.79,212.23 628.88,221.59 629.00,230.00 629.07,233.68 629.15,237.13 629.24,240.39 629.33,243.47 629.43,246.39 629.53,249.18 629.64,251.87 629.74,254.47 629.85,257.01 629.96,259.51 630.06,262.00 630.16,264.49 630.26,267.01 630.34,269.59 630.43,272.24 630.50,275.00 630.56,277.83 630.62,280.70 630.67,283.60 630.72,286.53 630.76,289.46 630.80,292.39 630.83,295.32 630.87,298.23 630.90,301.13 630.93,303.99 630.97,306.81 631.01,309.58 631.05,312.29 631.09,314.94 631.14,317.51 631.20,320.00 631.25,321.86 631.29,323.67 631.34,325.44 631.39,327.18 631.44,328.88 631.49,330.56 631.54,332.21 631.59,333.84 631.65,335.46 631.70,337.06 631.76,338.65 631.82,340.23 631.89,341.82 631.96,343.40 632.03,345.00 632.10,346.60 632.17,348.10 632.24,349.59 632.31,351.07 632.39,352.54 632.46,354.00 632.54,355.45 632.62,356.90 632.70,358.35 632.79,359.79 632.88,361.24 632.97,362.68 633.07,364.13 633.17,365.59 633.27,367.05 633.38,368.52 633.50,370.00 633.62,371.56 633.74,373.16 633.86,374.79 633.98,376.44 634.11,378.10 634.24,379.77 634.37,381.44 634.51,383.09 634.65,384.73 634.81,386.35 634.98,387.92 635.15,389.46 635.34,390.94 635.55,392.36 635.76,393.72 636.00,395.00 636.17,395.83 636.34,396.63 636.52,397.40 636.70,398.15 636.88,398.87 637.08,399.58 637.27,400.27 637.47,400.95 637.68,401.61 637.89,402.26 638.11,402.91 638.34,403.55 638.57,404.19 638.81,404.82 639.05,405.46 639.30,406.10 639.54,406.69 639.78,407.28 640.03,407.87 640.28,408.45 640.54,409.02 640.80,409.60 641.07,410.16 641.34,410.72 641.62,411.27 641.91,411.82 642.19,412.36 642.49,412.88 642.78,413.40 643.08,413.91 643.39,414.41 643.70,414.90 643.98,415.32 644.25,415.74 644.53,416.15 644.81,416.56 645.09,416.95 645.38,417.35 645.67,417.73 645.97,418.11 646.27,418.48 646.57,418.84 646.89,419.20 647.21,419.55 647.54,419.90 647.88,420.24 648.24,420.57 648.60,420.90 649.00,421.24 649.41,421.57 649.82,421.89 650.25,422.21 650.69,422.51 651.14,422.81 651.59,423.10 652.06,423.39 652.53,423.67 653.00,423.94 653.49,424.21 653.98,424.48 654.48,424.74 654.98,425.00 655.49,425.25 656.00,425.50 656.58,425.77 657.17,426.04 657.76,426.30 658.37,426.56 658.98,426.81 659.60,427.05 660.23,427.29 660.87,427.52 661.52,427.75 662.17,427.97 662.83,428.18 663.49,428.40 664.16,428.60 664.83,428.81 665.51,429.00 666.20,429.20 666.97,429.41 667.75,429.62 668.53,429.82 669.31,430.01 670.11,430.20 670.91,430.38 671.72,430.56 672.54,430.73 673.37,430.89 674.20,431.05 675.05,431.21 675.92,431.35 676.79,431.50 677.68,431.64 678.58,431.77 679.50,431.90 680.65,432.05 681.82,432.18 683.01,432.31 684.21,432.42 685.44,432.52 686.68,432.61 687.94,432.70 689.22,432.78 690.52,432.85 691.83,432.93 693.15,433.00 694.49,433.07 695.85,433.15 697.22,433.23 698.60,433.31 700.00,433.40 701.70,433.51 703.42,433.63 705.14,433.74 706.89,433.86 708.65,433.98 710.43,434.09 712.24,434.21 714.08,434.33 715.94,434.44 717.84,434.55 719.77,434.67 721.73,434.78 723.73,434.89 725.78,434.99 727.87,435.10 730.00,435.20 732.95,435.33 735.94,435.47 739.00,435.59 742.11,435.72 745.29,435.84 748.53,435.96 751.84,436.08 755.21,436.20 758.66,436.31 762.18,436.42 765.77,436.52 769.45,436.62 773.21,436.72 777.05,436.82 780.98,436.91 785.00,437.00 790.99,437.12 797.21,437.24 803.64,437.34 810.26,437.44 817.07,437.53 824.05,437.61 831.18,437.69 838.45,437.76 845.84,437.83 853.35,437.89 860.96,437.95 868.66,438.00 876.42,438.06 884.24,438.11 892.11,438.15 900.00,438.20 909.78,438.25 919.80,438.29 930.04,438.32 940.47,438.35 951.07,438.37 961.81,438.38 972.67,438.38 983.61,438.39 994.63,438.39 1005.69,438.39 1016.76,438.38 1027.82,438.38 1038.86,438.38 1049.83,438.38 1060.72,438.39 1071.50,438.40" fill="none" stroke="#6a62c6" stroke-width="2.0" stroke-linejoin="round"/>
<rect x="414.20" y="281.00" width="17.0" height="17.0" fill="#3d3d3d"/>
<rect x="414.40" y="327.20" width="17.0" height="17.0" fill="#3d3d3d"/>
<rect x="423.20" y="373.40" width="17.0" height="17.0" fill="#3d3d3d"/>
<rect x="426.50" y="418.00" width="17.0" height="17.0" fill="#3d3d3d"/>
<rect x="418.00" y="444.80" width="17.0" height="17.0" fill="#3d3d3d"/>
<rect x="420.80" y="487.10" width="17.0" height="17.0" fill="#3d3d3d"/>
<rect x="456.30" y="501.70" width="17.0" height="17.0" fill="#3d3d3d"/>
<rect x="485.10" y="515.70" width="17.0" height="17.0" fill="#3d3d3d"/>
<rect x="538.70" y="516.80" width="17.0" height="17.0" fill="#3d3d3d"/>
<rect x="557.30" y="519.10" width="17.0" height="17.0" fill="#3d3d3d"/>
<rect x="607.70" y="517.60" width="17.0" height="17.0" fill="#3d3d3d"/>
<rect x="757.30" y="519.90" width="17.0" height="17.0" fill="#3d3d3d"/>
<rect x="870.70" y="517.90" width="17.0" height="17.0" fill="#3d3d3d"/>
<rect x="939.60" y="515.00" width="17.0" height="17.0" fill="#3d3d3d"/>
<rect x="1043.00" y="514.10" width="17.0" height="17.0" fill="#3d3d3d"/>
<rect x="1071.90" y="512.20" width="17.0" height="17.0" fill="#3d3d3d"/>
<polygon points="526.90,148.10 538.00,166.30 515.80,166.30" fill="#ff2236"/>
<polygon points="537.80,137.70 548.90,155.90 526.70,155.90" fill="#ff2236"/>
<polygon points="543.20,176.50 554.30,194.70 532.10,194.70" fill="#ff2236"/>
<polygon points="550.90,229.50 562.00,247.70 539.80,247.70" fill="#ff2236"/>
<polygon points="523.50,265.60 534.60,283.80 512.40,283.80" fill="#ff2236"/>
<polygon points="548.20,267.40 559.30,285.60 537.10,285.60" fill="#ff2236"/>
<polygon points="528.00,298.30 539.10,316.50 516.90,316.50" fill="#ff2236"/>
<polygon points="548.30,341.50 559.40,359.70 537.20,359.70" fill="#ff2236"/>
<polygon points="549.00,371.90 560.10,390.10 537.90,390.10" fill="#ff2236"/>
<polygon points="531.00,383.70 542.10,401.90 519.90,401.90" fill="#ff2236"/>
<polygon points="554.70,414.90 565.80,433.10 543.60,433.10" fill="#ff2236"/>
<polygon points="528.50,440.20 539.60,458.40 517.40,458.40" fill="#ff2236"/>
<polygon points="562.10,465.60 573.20,483.80 551.00,483.80" fill="#ff2236"/>
<polygon points="554.00,486.40 565.10,504.60 542.90,504.60" fill="#ff2236"/>
<polygon points="622.00,477.20 633.10,495.40 610.90,495.40" fill="#ff2236"/>
<polygon points="618.40,496.70 629.50,514.90 607.30,514.90" fill="#ff2236"/>
<polygon points="754.20,477.40 765.30,495.60 743.10,495.60" fill="#ff2236"/>
<polygon points="797.70,472.80 808.80,491.00 786.60,491.00" fill="#ff2236"/>
<polygon points="855.70,484.00 866.80,502.20 844.60,502.20" fill="#ff2236"/>
<polygon points="950.70,486.50 961.80,504.70 939.60,504.70" fill="#ff2236"/>
<polygon points="1095.50,469.50 1106.60,487.70 1084.40,487.70" fill="#ff2236"/>
<polygon points="618.30,83.70 640.50,83.70 629.40,101.90" fill="#0a64e0"/>
<polygon points="626.40,137.10 648.60,137.10 637.50,155.30" fill="#0a64e0"/>
<polygon points="626.70,182.00 648.90,182.00 637.80,200.20" fill="#0a64e0"/>
<polygon points="629.80,235.30 652.00,235.30 640.90,253.50" fill="#0a64e0"/>
<polygon points="623.30,254.70 645.50,254.70 634.40,272.90" fill="#0a64e0"/>
<polygon points="624.90,298.90 647.10,298.90 636.00,317.10" fill="#0a64e0"/>
<polygon points="627.20,326.50 649.40,326.50 638.30,344.70" fill="#0a64e0"/>
<polygon points="620.90,355.90 643.10,355.90 632.00,374.10" fill="#0a64e0"/>
<polygon points="626.90,374.90 649.10,374.90 638.00,393.10" fill="#0a64e0"/>
<polygon points="643.40,381.90 665.60,381.90 654.50,400.10" fill="#0a64e0"/>
<polygon points="641.90,423.90 664.10,423.90 653.00,442.10" fill="#0a64e0"/>
<polygon points="685.90,423.90 708.10,423.90 697.00,442.10" fill="#0a64e0"/>
<polygon points="769.90,416.40 792.10,416.40 781.00,434.60" fill="#0a64e0"/>
<polygon points="829.50,414.30 851.70,414.30 840.60,432.50" fill="#0a64e0"/>
<polygon points="877.90,414.30 900.10,414.30 889.00,432.50" fill="#0a64e0"/>
<polygon points="868.20,438.50 890.40,438.50 879.30,456.70" fill="#0a64e0"/>
<polygon points="903.40,443.20 925.60,443.20 914.50,461.40" fill="#0a64e0"/>
<polygon points="956.60,422.10 978.80,422.10 967.70,440.30" fill="#0a64e0"/>
<polygon points="1016.40,422.30 1038.60,422.30 1027.50,440.50" fill="#0a64e0"/>
<polygon points="1042.20,442.90 1064.40,442.90 1053.30,461.10" fill="#0a64e0"/>
<polygon points="1060.70,413.60 1082.90,413.60 1071.80,431.80" fill="#0a64e0"/>
<rect x="705.0" y="55.6" width="364.8" height="164.2" fill="none" stroke="#c4c4c4" stroke-width="4.4"/>
<rect x="704.2" y="54.9" width="364.8" height="164.0" fill="none" stroke="#636363" stroke-width="2.2"/>
<rect x="752.3" y="76.2" width="18.4" height="17.4" fill="#3d3d3d"/>
<polygon points="761.00,125.40 772.10,143.60 749.90,143.60" fill="#ff2236"/>
<polygon points="749.90,182.90 772.10,182.90 761.00,201.10" fill="#0a64e0"/>
<line x1="811.5" y1="84.2" x2="914.5" y2="84.2" stroke="#707070" stroke-width="2.3"/>
<line x1="811.5" y1="137.4" x2="914.5" y2="137.4" stroke="#e27684" stroke-width="2.3"/>
<line x1="811.5" y1="189.4" x2="914.5" y2="189.4" stroke="#857ac8" stroke-width="2.3"/></g>
</svg>
</body></html>
